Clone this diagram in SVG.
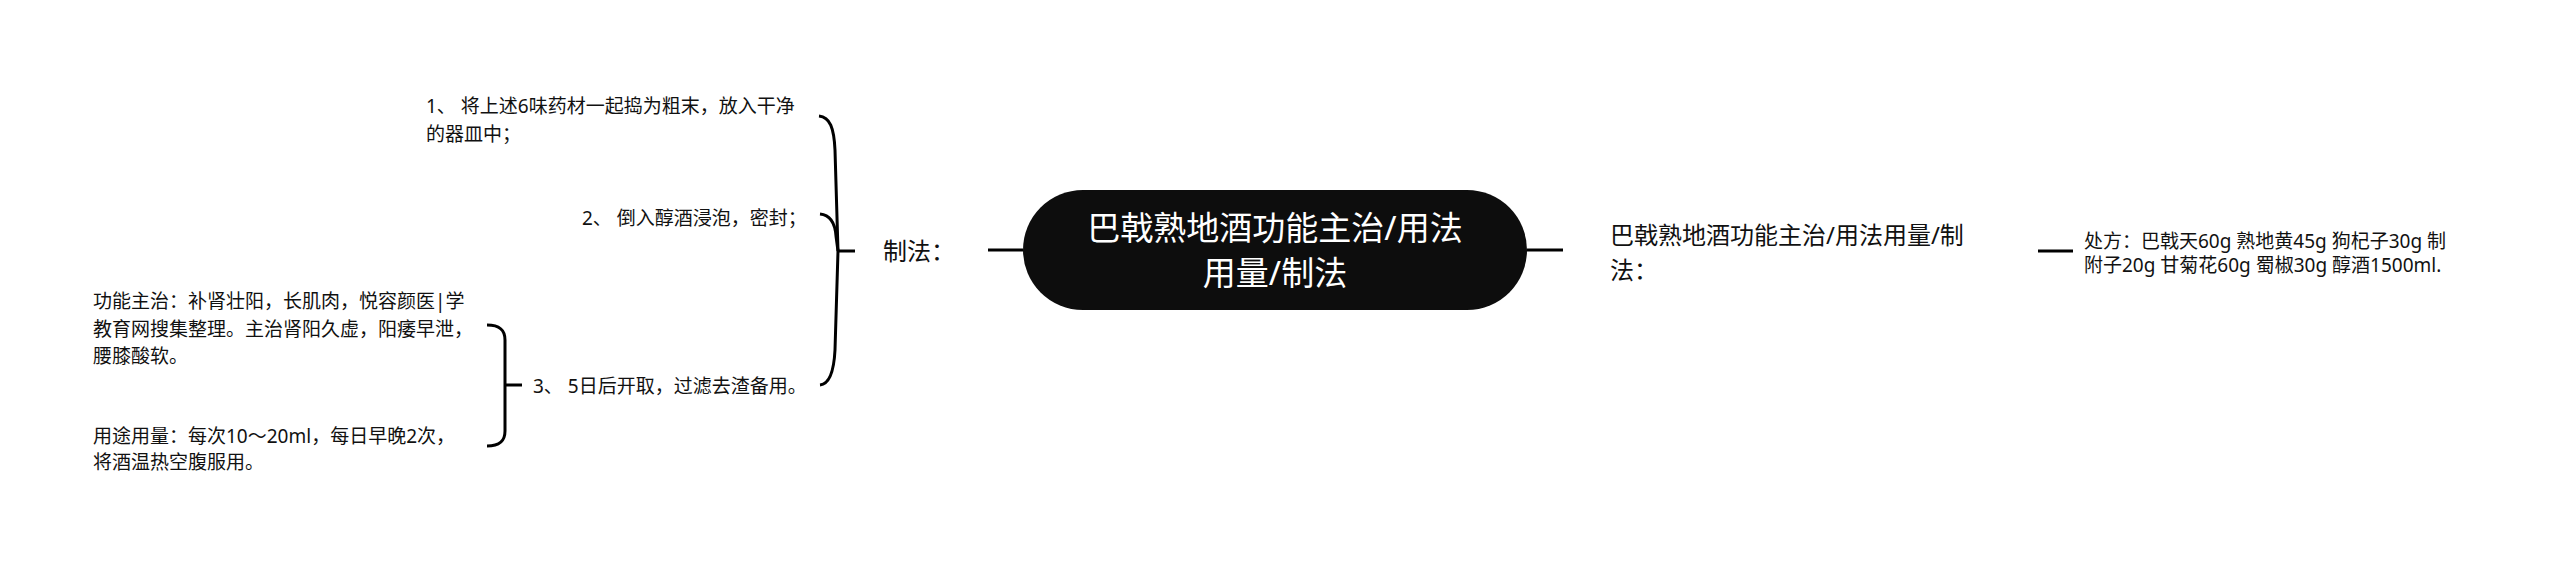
<svg xmlns="http://www.w3.org/2000/svg" width="2560" height="563" viewBox="0 0 2560 563">
<style>
  .t { font-family: "Noto Sans", "Noto Sans CJK SC", sans-serif; fill: #111; }
  .s { font-size: 19px; }
  .m { font-size: 24px; }
  .c { font-size: 33px; fill: #fff; }
  .ln { fill: none; stroke: #000; stroke-width: 3; }
</style>
<rect width="2560" height="563" fill="#fff"/>
<g id="connectors">
  <path class="ln" d="M988 250 H1023"/>
  <path class="ln" d="M1527 250 H1563"/>
  <path class="ln" d="M2038 251 H2073"/>
  <path class="ln" d="M855 251 H838"/>
  <path class="ln" d="M838 251 L835 150 C834 128 830 117 819 116"/>
  <path class="ln" d="M838 251 L836 236 C835 222 830 215 820 214"/>
  <path class="ln" d="M838 251 L835 350 C834 370 830 384 820 385"/>
  <path class="ln" d="M522 385 H505"/>
  <path class="ln" d="M505 385 V340 C505 330 500 325 487 325"/>
  <path class="ln" d="M505 385 V431 C505 441 500 446 487 446"/>
</g>
<g id="root">
  <rect x="1023" y="190" width="504" height="120" rx="60" ry="60" fill="#0d0d0d"/>
  <text class="t c" text-anchor="middle"><tspan x="1275" y="240">巴戟熟地酒功能主治/用法</tspan><tspan x="1275" y="285">用量/制法</tspan></text>
</g>
<g id="zhifa">
  <text class="t m" x="883" y="260">制法：</text>
</g>
<g id="step1">
  <text class="t s"><tspan x="426" y="113">1、 将上述6味药材一起捣为粗末，放入干净</tspan><tspan x="426" y="140.5">的器皿中；</tspan></text>
</g>
<g id="step2">
  <text class="t s" x="582" y="225">2、 倒入醇酒浸泡，密封；</text>
</g>
<g id="step3">
  <text class="t s" x="533" y="393">3、 5日后开取，过滤去渣备用。</text>
</g>
<g id="gongneng">
  <text class="t s"><tspan x="93" y="308">功能主治：补肾壮阳，长肌肉，悦容颜医|学</tspan><tspan x="93" y="336">教育网搜集整理。主治肾阳久虚，阳痿早泄，</tspan><tspan x="93" y="363">腰膝酸软。</tspan></text>
</g>
<g id="yongtu">
  <text class="t s"><tspan x="93" y="442.5">用途用量：每次10～20ml，每日早晚2次，</tspan><tspan x="93" y="469">将酒温热空腹服用。</tspan></text>
</g>
<g id="title2">
  <text class="t m"><tspan x="1610" y="244">巴戟熟地酒功能主治/用法用量/制</tspan><tspan x="1610" y="279">法：</tspan></text>
</g>
<g id="chufang">
  <text class="t s"><tspan x="2084" y="247.5">处方：巴戟天60g 熟地黄45g 狗杞子30g 制</tspan><tspan x="2084" y="272">附子20g 甘菊花60g 蜀椒30g 醇酒1500ml.</tspan></text>
</g>
</svg>
